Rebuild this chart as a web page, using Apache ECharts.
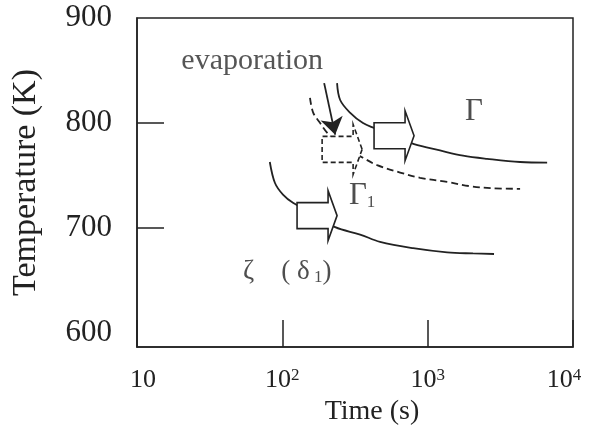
<!DOCTYPE html>
<html>
<head>
<meta charset="utf-8">
<script src="https://cdn.jsdelivr.net/npm/echarts@6/dist/echarts.min.js"></script>
<style>
  html, body { margin: 0; padding: 0; background: #fff; }
  #chart { width: 589px; height: 434px; }
</style>
</head>
<body>
<div id="chart"></div>
<script>
// values: [time (s), temperature (K)]
const gammaCurve = [[238, 838], [250, 822], [292, 810], [359, 800], [434, 795], [597, 787], [806, 780], [1216, 774], [1753, 769], [2564, 766], [4325, 763], [6637, 762.5]];
const gamma1Curve = [[155, 824], [163, 810], [182, 800], [203, 791], [249, 779], [359, 767], [449, 760], [646, 753], [887, 748], [1361, 744], [1959, 740], [2818, 738], [4325, 737.5]];
const zetaCurve = [[82, 763], [89, 743], [101, 732], [119, 724], [168, 713], [231, 701], [343, 694], [470, 687], [794, 681], [1361, 677], [2052, 676], [2862, 675.5]];
// tips of the big hollow arrows
const solidArrowTips = [[806, 788], [238, 712]];
const dashedArrowTips = [[354, 775]];
// evaporation pointer: from, to
const evaporationArrow = [[194, 838], [231, 789]];
// text notes: time, temperature, text
const notes = [
  [62, 859, '{e|evaporation}'],
  [2084, 811, '{g|Γ}'],
  [354, 731, '{g|Γ}{sub|1}'],
  [108, 658, '{z|ζ    ( δ}{sub| 1}{z|)}']
];
const yTickValues = [700, 800];
const yLabelValues = [600, 700, 800, 900];

const ink = '#222';
const serif = 'Liberation Serif';

function arrowItem(dashed) {
  return function (params, api) {
    const tip = api.coord([api.value(0), api.value(1)]);
    const x = tip[0], y = tip[1];
    const hl = 9, hh = 25, bl = 31, bh = 13;
    return {
      type: 'polygon',
      shape: {
        points: [[x, y], [x - hl, y + hh], [x - hl, y + bh], [x - hl - bl, y + bh],
                 [x - hl - bl, y - bh], [x - hl, y - bh], [x - hl, y - hh]]
      },
      style: { fill: '#fff', stroke: ink, lineWidth: 1.6, lineDash: dashed ? [5, 3] : null }
    };
  };
}

const chart = echarts.init(document.getElementById('chart'));
const option = {
  backgroundColor: '#fff',
  animation: false,
  grid: {
    left: 137, right: 16, top: 18, bottom: 87,
    show: true, borderColor: ink, borderWidth: 1.5
  },
  xAxis: {
    type: 'log',
    logBase: 10,
    min: 10,
    max: 10000,
    name: 'Time (s)',
    nameLocation: 'middle',
    nameGap: 46,
    nameTextStyle: { fontFamily: serif, fontSize: 28, color: ink, padding: [0, 0, 0, 34] },
    axisLine: { lineStyle: { color: ink, width: 1.5 } },
    axisTick: { inside: true, length: 27, lineStyle: { color: ink, width: 1.5 } },
    splitLine: { show: false },
    minorTick: { show: false },
    axisLabel: {
      margin: 20,
      formatter: function (v) {
        const p = Math.round(Math.log10(v));
        if (p === 1) return '{first|10}';
        if (p === 4) return '{b|10}{supR|4}';
        return '{b|10}{sup|' + p + '}';
      },
      rich: {
        first: { fontFamily: serif, fontSize: 26, color: ink, padding: [0, 0, 0, 12] },
        b: { fontFamily: serif, fontSize: 26, color: ink },
        sup: { fontFamily: serif, fontSize: 17, color: ink, verticalAlign: 'top' },
        supR: { fontFamily: serif, fontSize: 17, color: ink, verticalAlign: 'top', padding: [0, 18, 0, 0] }
      }
    }
  },
  yAxis: {
    type: 'value',
    min: 587,
    max: 900,
    name: 'Temperature (K)',
    nameLocation: 'middle',
    nameGap: 94,
    nameTextStyle: { fontFamily: serif, fontSize: 34, color: ink },
    axisLine: { show: true, lineStyle: { color: ink, width: 1.5 } },
    axisTick: { inside: true, length: 27, customValues: yTickValues, lineStyle: { color: ink, width: 1.5 } },
    splitLine: { show: false },
    axisLabel: {
      customValues: yLabelValues,
      margin: 25,
      fontFamily: serif,
      fontSize: 31,
      color: ink
    }
  },
  series: [
    {
      name: 'Γ',
      type: 'line',
      data: gammaCurve,
      smooth: 0.35,
      symbol: 'none',
      z: 2,
      lineStyle: { color: ink, width: 1.8 }
    },
    {
      name: 'Γ1',
      type: 'line',
      data: gamma1Curve,
      smooth: 0.35,
      symbol: 'none',
      z: 2,
      lineStyle: { color: ink, width: 1.8, type: [7, 4] }
    },
    {
      name: 'ζ',
      type: 'line',
      data: zetaCurve,
      smooth: 0.35,
      symbol: 'none',
      z: 2,
      lineStyle: { color: ink, width: 1.8 }
    },
    {
      name: 'solid arrows',
      type: 'custom',
      data: solidArrowTips,
      renderItem: arrowItem(false),
      z: 4,
      silent: true
    },
    {
      name: 'dashed arrows',
      type: 'custom',
      data: dashedArrowTips,
      renderItem: arrowItem(true),
      z: 4,
      silent: true
    },
    {
      name: 'evaporation',
      type: 'line',
      data: [],
      z: 8,
      markLine: {
        silent: true,
        symbol: ['none', 'arrow'],
        symbolSize: 17,
        label: { show: false },
        lineStyle: { color: ink, width: 1.8, type: 'solid' },
        itemStyle: { color: ink },
        data: [[{ coord: evaporationArrow[0] }, { coord: evaporationArrow[1] }]]
      }
    },
    {
      name: 'notes',
      type: 'scatter',
      data: notes.map(n => ({ value: [n[0], n[1]], name: n[2] })),
      symbolSize: 1,
      itemStyle: { color: 'rgba(0,0,0,0)' },
      silent: true,
      z: 5,
      label: {
        show: true,
        position: 'inside',
        formatter: p => p.name,
        rich: {
          e: { fontFamily: serif, fontSize: 30, color: '#2a2a2a' },
          g: { fontFamily: serif, fontSize: 31, color: ink },
          z: { fontFamily: serif, fontSize: 27, color: ink },
          sub: { fontFamily: serif, fontSize: 17, color: ink, verticalAlign: 'bottom' }
        }
      }
    }
  ]
};
chart.setOption(option);
</script>
</body>
</html>
